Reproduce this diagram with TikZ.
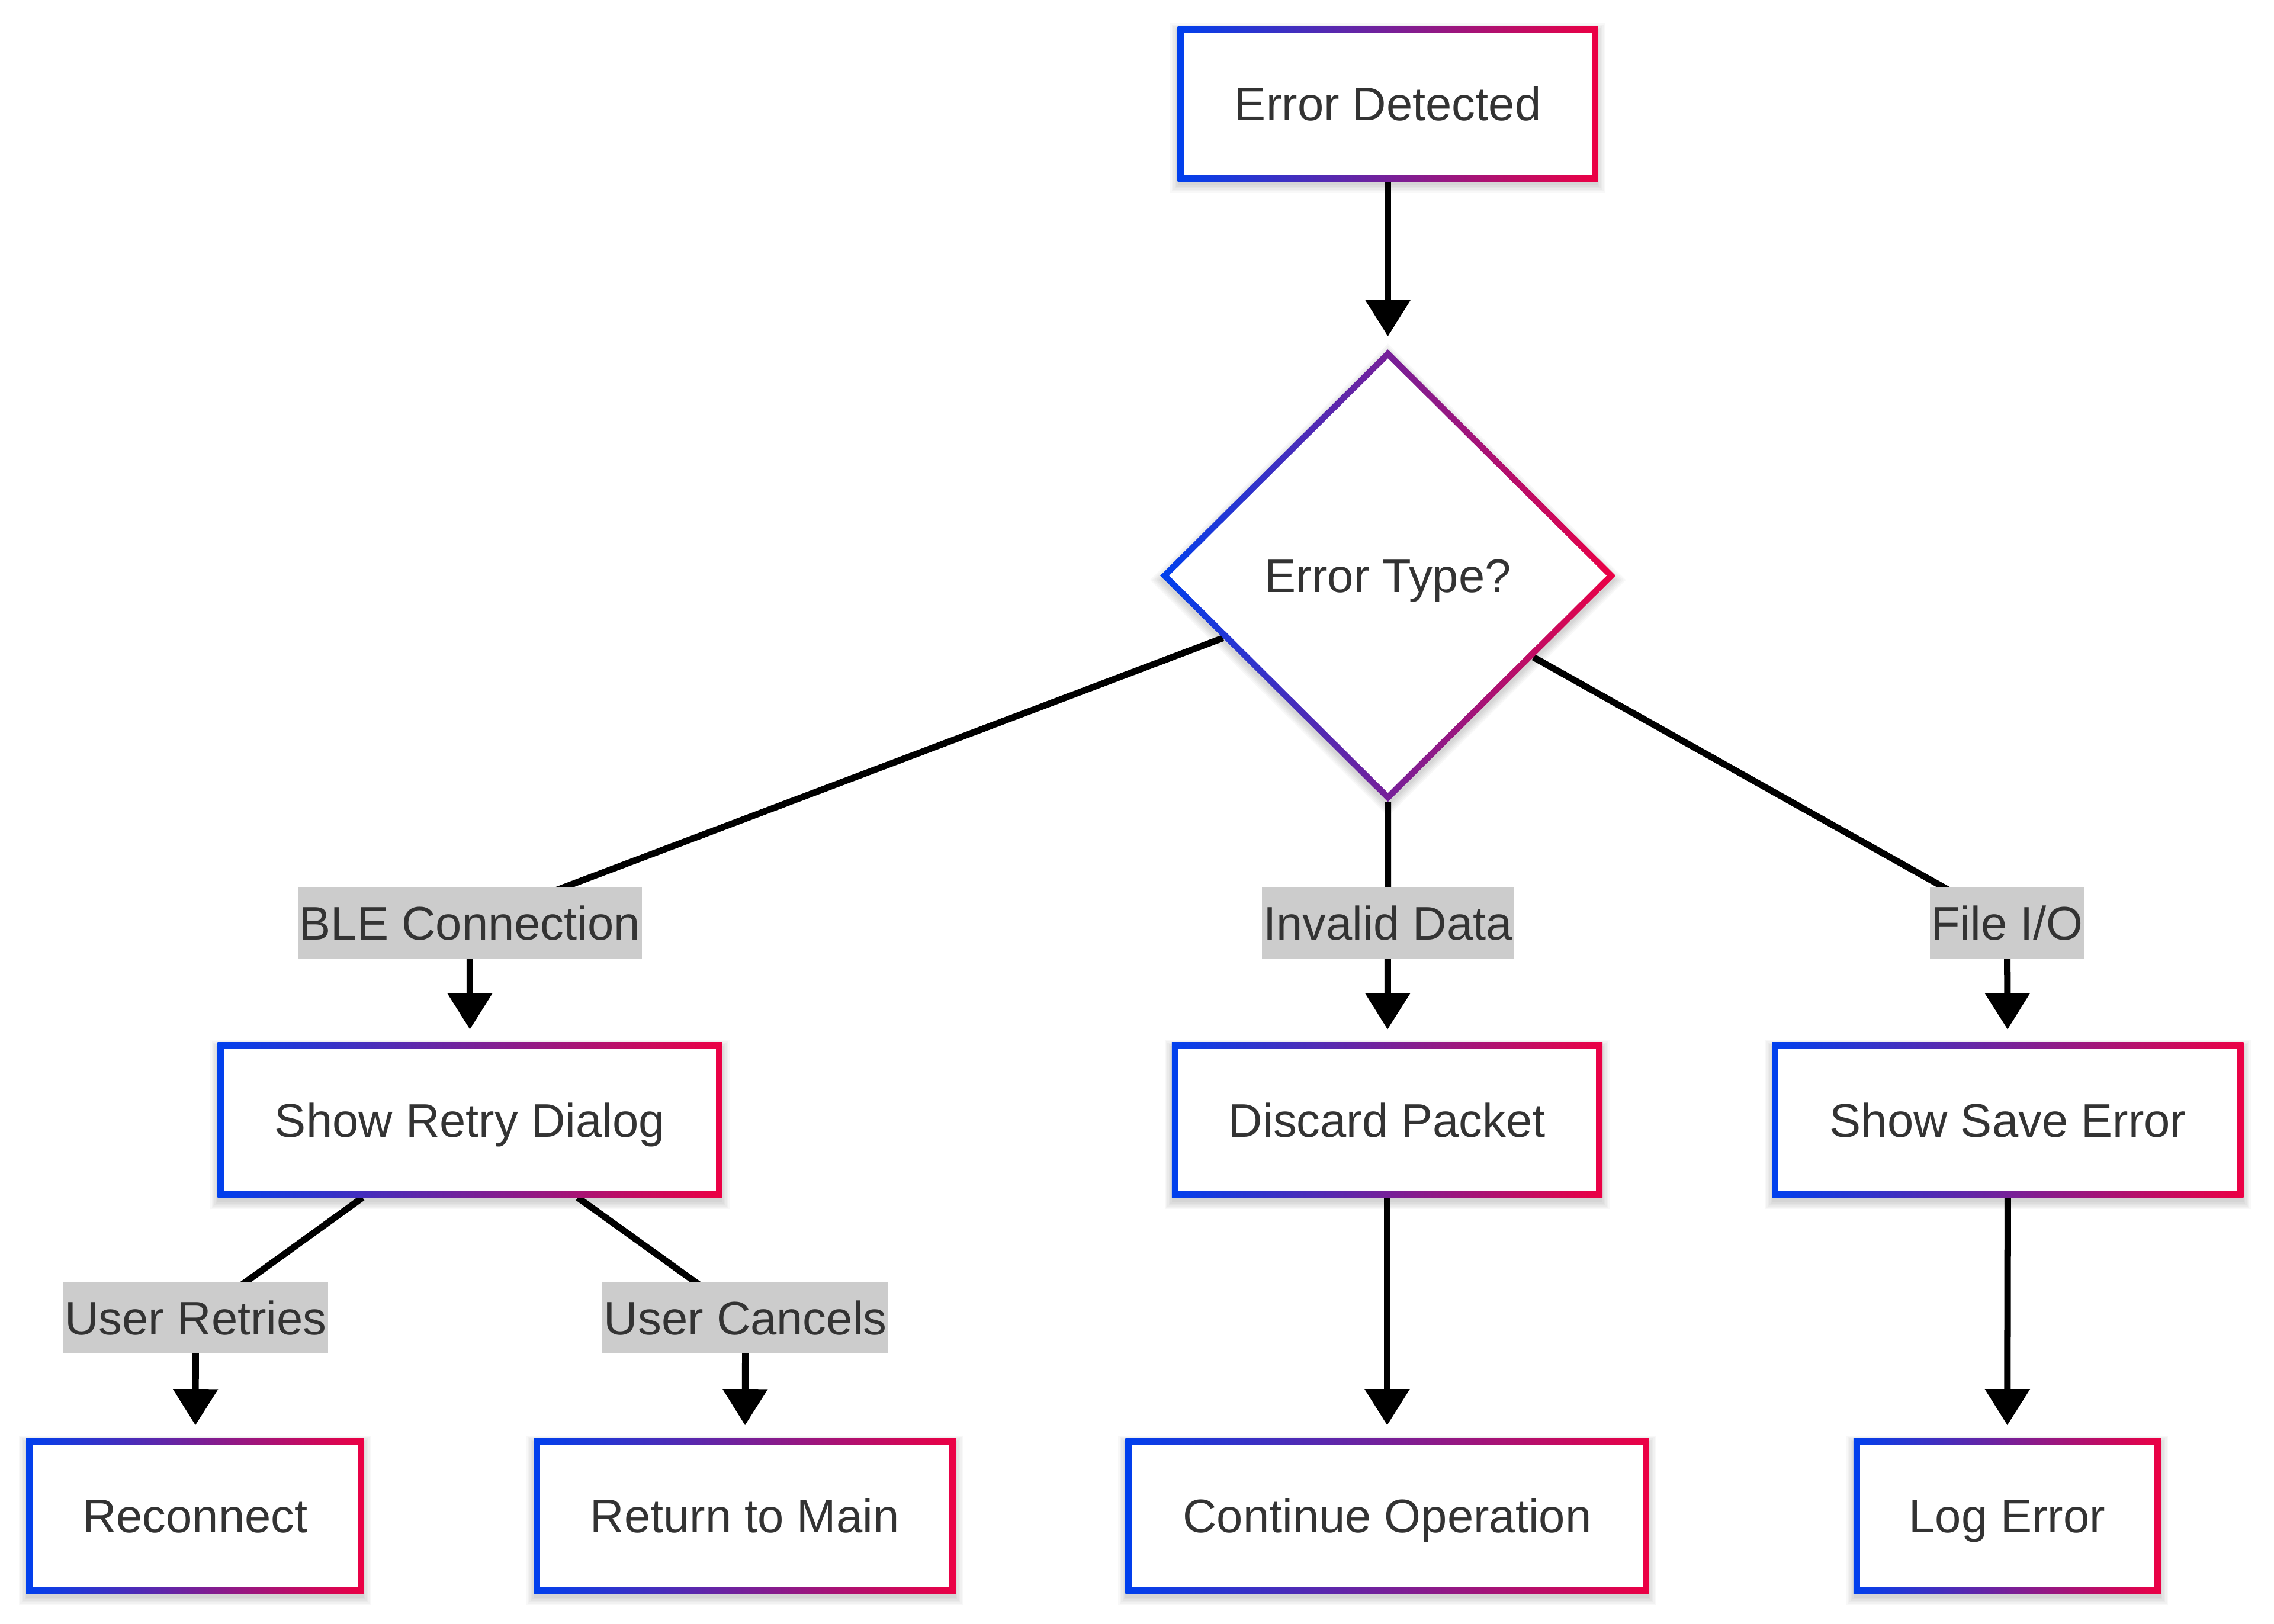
\documentclass[tikz,border=0pt]{standalone}
\usepackage{fontspec}
\setmainfont{Liberation Sans}
\usetikzlibrary{arrows.meta,shapes.geometric,calc}

\definecolor{gblue}{RGB}{0,64,238}
\definecolor{gred}{RGB}{236,0,68}
\definecolor{ink}{RGB}{51,51,51}
\definecolor{labelbg}{RGB}{204,204,204}

\newcommand{\flowfont}{\fontsize{32.5pt}{39pt}\selectfont}

\pgfdeclarelayer{paper}
\pgfdeclarelayer{shadowlayer}
\pgfdeclarelayer{edgelayer}
\pgfsetlayers{paper,shadowlayer,edgelayer,main}

\tikzset{
  stepbox/.style={rectangle, minimum height=107pt, inner sep=0pt, outer sep=0pt,
      text height=23.3pt, text depth=0pt,
      left color=gblue, right color=gred, text=ink, font=\flowfont,
      path picture={\fill[white]
        ([shift={(4.4pt,4.4pt)}]path picture bounding box.south west) rectangle
        ([shift={(-4.4pt,-4.4pt)}]path picture bounding box.north east);}},
  decision/.style={diamond, minimum width=314pt, minimum height=312pt,
      inner sep=0pt, outer sep=0pt, left color=gblue, right color=gred,
      text height=23.3pt, text depth=0pt, text=ink, font=\flowfont,
      path picture={\fill[white]
        ([yshift=-6.2pt]path picture bounding box.north) --
        ([xshift=-6.2pt]path picture bounding box.east) --
        ([yshift=6.2pt]path picture bounding box.south) --
        ([xshift=6.2pt]path picture bounding box.west) -- cycle;}},
  elabel/.style={rectangle, fill=labelbg, text=ink, font=\flowfont,
      text height=23.3pt, text depth=0pt,
      inner xsep=1pt, inner ysep=0pt, minimum height=49pt, outer sep=0pt},
  flow/.style={line width=4.5pt, draw=black,
      -{Triangle[length=25pt,width=30pt]}, shorten >=9pt},
  shadowstep/.style={fill=black, opacity=0.028},
}

\begin{document}
\begin{tikzpicture}[x=1pt, y=-1pt]
  \useasboundingbox (0,0) rectangle (1568,1120);
  \begin{pgfonlayer}{paper}
    \fill[white] (0,0) rectangle (1568,1120);
  \end{pgfonlayer}

  % process and decision nodes
  \node[stepbox, minimum width=290pt] (ed)  at (957,71.5)    {Error Detected};
  \node[decision]                     (dia) at (957,397)     {Error Type?};
  \node[stepbox, minimum width=348pt] (srd) at (324,772.5)   {Show Retry Dialog};
  \node[stepbox, minimum width=297pt] (dp)  at (956.5,772.5) {Discard Packet};
  \node[stepbox, minimum width=325pt] (sse) at (1384.5,772.5){Show Save Error};
  \node[stepbox, minimum width=233pt] (rc)  at (134.5,1045.5){Reconnect};
  \node[stepbox, minimum width=291pt] (rtm) at (513.5,1045.5){Return to Main};
  \node[stepbox, minimum width=361pt] (co)  at (956.5,1045.5){Continue Operation};
  \node[stepbox, minimum width=212pt] (le)  at (1384,1045.5) {Log Error};

  % edge labels
  \node[elabel] (lble) at (324,636.5)  {BLE Connection};
  \node[elabel] (linv) at (957,636.5)  {Invalid Data};
  \node[elabel] (lfio) at (1384,636.5) {File I/O};
  \node[elabel] (lret) at (135,909)    {User Retries};
  \node[elabel] (lcan) at (514,909)    {User Cancels};

  % soft drop shadows under the nodes
  \begin{pgfonlayer}{shadowlayer}
    \foreach \n in {ed,srd,dp,sse,rc,rtm,co,le}{
      \foreach \i in {0,...,5}{
        \fill[shadowstep]
          ([shift={({-\i*1pt},{-3pt-\i*1pt})}]\n.south west) rectangle
          ([shift={({\i*1pt},{-3pt+\i*1pt})}]\n.north east);
      }
    }
    \foreach \i in {0,...,5}{
      \fill[shadowstep]
        ([yshift={-3pt+\i*1.41pt}]dia.north) --
        ([shift={({\i*1.41pt},-3pt)}]dia.east) --
        ([yshift={-3pt-\i*1.41pt}]dia.south) --
        ([shift={({-\i*1.41pt},-3pt)}]dia.west) -- cycle;
    }
  \end{pgfonlayer}

  % connectors
  \begin{pgfonlayer}{edgelayer}
    \draw[flow] (ed) -- (dia);
    \draw[flow] (dia) -- (lble.center) -- (srd);
    \draw[flow] (dia) -- (linv.center) -- (dp);
    \draw[flow] (dia) -- (lfio.center) -- (sse);
    \draw[flow] (srd) -- (lret.center) -- (rc);
    \draw[flow] (srd) -- (lcan.center) -- (rtm);
    \draw[flow] (dp) -- (co);
    \draw[flow] (sse) -- (le);
  \end{pgfonlayer}
\end{tikzpicture}
\end{document}
